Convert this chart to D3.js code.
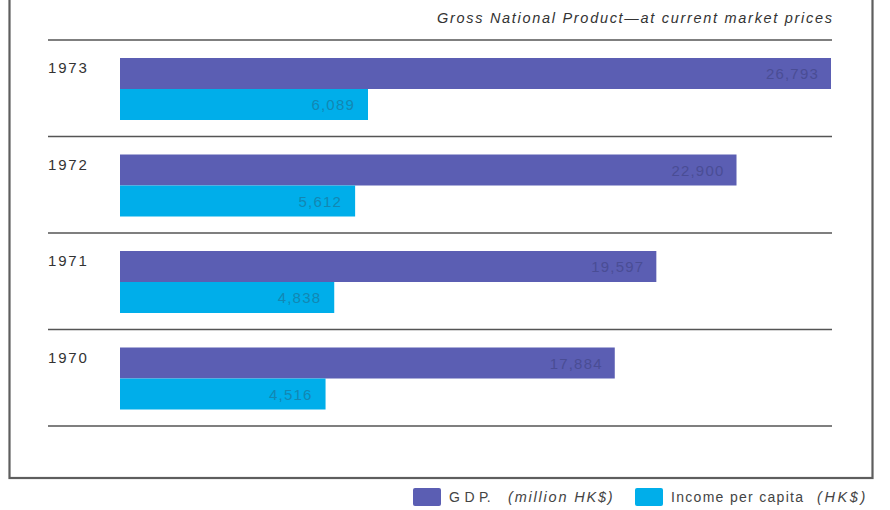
<!DOCTYPE html>
<html>
<head>
<meta charset="utf-8">
<script src="https://cdn.jsdelivr.net/npm/d3@7/dist/d3.min.js"></script>
<style>
  html, body { margin: 0; padding: 0; background: #fff; }
  svg { display: block; }
  text { font-family: "Liberation Sans", Arial, Helvetica, sans-serif; }
</style>
</head>
<body>
<svg id="chart" width="890" height="510"></svg>
<script>
// ---- data ----
const years = ["1973", "1972", "1971", "1970"];
const gdp = [26793, 22900, 19597, 17884];           // million HK$
const incomePerCapita = [6089, 5612, 4838, 4516];   // HK$
const seriesNames = ["G D P.", "Income per capita"];
const seriesUnits = ["(million HK$)", "(HK$)"];
const title = "Gross National Product\u2014at current market prices";

// ---- setup ----
const svg = d3.select("#chart");
const colors = { gdp: "#5b5eb3", income: "#00aeea" };
const labelColors = { gdp: "#4a4d95", income: "#1287b3" };

// frame
svg.append("rect")
  .attr("x", 9.5).attr("y", -10).attr("width", 863).attr("height", 488)
  .attr("fill", "none").attr("stroke", "#5e5e5e").attr("stroke-width", 2.2);

// title
svg.append("text")
  .attr("x", 832).attr("y", 23)
  .attr("text-anchor", "end")
  .attr("font-style", "italic")
  .attr("font-size", 14.5)
  .attr("textLength", 395)
  .attr("lengthAdjust", "spacing")
  .attr("fill", "#333")
  .text(title);

// scales
const y = d3.scaleBand().domain(years).range([40, 426]).paddingInner(0).paddingOuter(0);
const ySeries = d3.scaleBand().domain(["gdp", "income"]).range([18, 80]).padding(0);
// the original artwork is not drawn from zero; these domains reproduce its bar lengths
const xGdp = d3.scaleLinear().domain([-2500, 26793]).range([120, 831]);
const xInc = d3.scaleLinear().domain([-3100, 6089]).range([120, 368]);
const fmt = d3.format(",");

const rows = years.map((yr, i) => ({ year: yr, gdp: gdp[i], income: incomePerCapita[i] }));

// rules
const ruleYs = years.map(d => y(d)).concat([y(years[years.length - 1]) + y.bandwidth()]);
svg.selectAll("line.rule").data(ruleYs).join("line")
  .attr("class", "rule")
  .attr("x1", 48).attr("x2", 832)
  .attr("y1", d => d).attr("y2", d => d)
  .attr("stroke", "#555").attr("stroke-width", 1.6);

const g = svg.selectAll("g.row").data(rows).join("g")
  .attr("class", "row")
  .attr("transform", d => `translate(0,${y(d.year)})`);

// year labels
g.append("text")
  .attr("x", 48).attr("y", 33)
  .attr("font-size", 15)
  .attr("letter-spacing", 1.8)
  .attr("fill", "#333")
  .text(d => d.year);

// GDP bars
g.append("rect")
  .attr("x", xGdp.range()[0])
  .attr("y", ySeries("gdp"))
  .attr("width", d => xGdp(d.gdp) - xGdp.range()[0])
  .attr("height", ySeries.bandwidth())
  .attr("fill", colors.gdp);

// income bars
g.append("rect")
  .attr("x", xInc.range()[0])
  .attr("y", ySeries("income"))
  .attr("width", d => xInc(d.income) - xInc.range()[0])
  .attr("height", ySeries.bandwidth())
  .attr("fill", colors.income);

// value labels
g.append("text")
  .attr("x", d => xGdp(d.gdp) - 12)
  .attr("y", ySeries("gdp") + ySeries.bandwidth() / 2 + 5.5)
  .attr("text-anchor", "end")
  .attr("font-size", 15)
  .attr("letter-spacing", 1.2)
  .attr("fill", labelColors.gdp)
  .text(d => fmt(d.gdp));

g.append("text")
  .attr("x", d => xInc(d.income) - 13)
  .attr("y", ySeries("income") + ySeries.bandwidth() / 2 + 5.5)
  .attr("text-anchor", "end")
  .attr("font-size", 15)
  .attr("letter-spacing", 1.2)
  .attr("fill", labelColors.income)
  .text(d => fmt(d.income));

// legend
const legend = svg.append("g");
const legItems = [
  { key: "gdp", name: seriesNames[0], unit: seriesUnits[0], x: 413, nameSp: 0.3, unitX: 508, unitSp: 1.8 },
  { key: "income", name: seriesNames[1], unit: seriesUnits[1], x: 635, nameSp: 1.3, unitX: 817, unitSp: 2.6 }
];
legItems.forEach(it => {
  legend.append("rect")
    .attr("x", it.x).attr("y", 488).attr("width", 28).attr("height", 18)
    .attr("rx", 2)
    .attr("fill", colors[it.key]);
  legend.append("text")
    .attr("x", it.x + 36).attr("y", 502)
    .attr("font-size", 14)
    .attr("fill", "#444")
    .attr("letter-spacing", it.nameSp)
    .text(it.name);
  legend.append("text")
    .attr("x", it.unitX).attr("y", 502)
    .attr("font-size", 14.5)
    .attr("font-style", "italic")
    .attr("fill", "#444")
    .attr("letter-spacing", it.unitSp)
    .text(it.unit);
});
</script>
</body>
</html>
